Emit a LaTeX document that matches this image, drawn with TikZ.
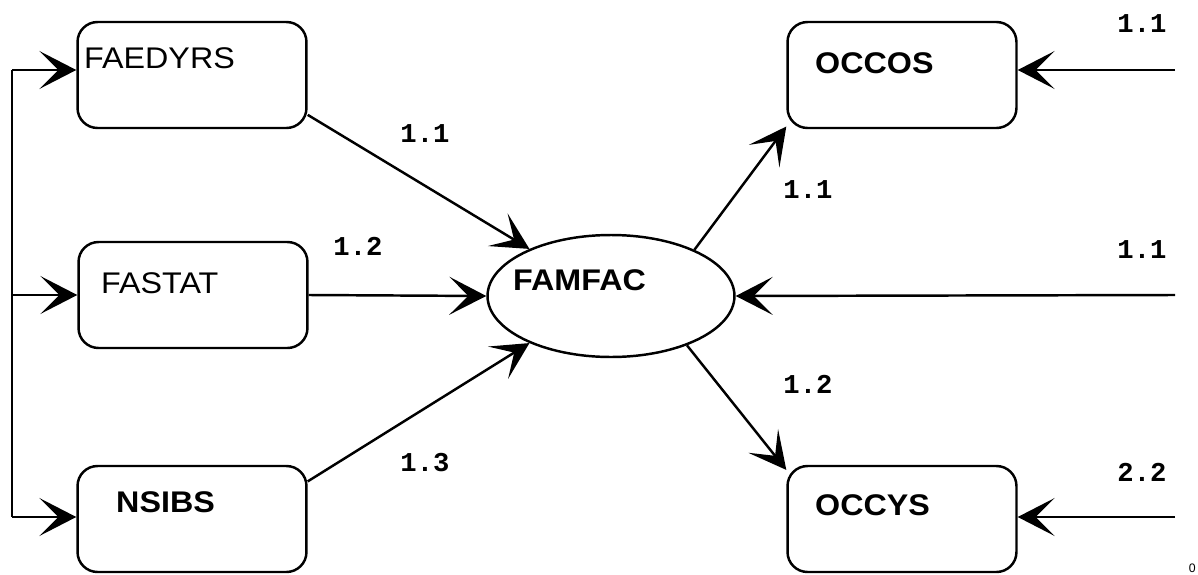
\documentclass[tikz,border=0pt]{standalone}
\usepackage{fontspec}
\setmainfont{Liberation Sans}
\newfontfamily\lblfont{Liberation Mono}
\newfontfamily\boxfont[FakeStretch=1.08]{Liberation Sans}
\usetikzlibrary{shapes.geometric,arrows.meta,calc}

\begin{document}
\begin{tikzpicture}[x=0.02cm,y=-0.02cm,>={Stealth[length=0.74cm,width=0.76cm,inset=0.38cm]},
  line width=1.4pt,
  every box/.style={draw,rounded corners=0.4cm,minimum width=4.58cm,minimum height=2.12cm,inner sep=0pt},
  boxtext/.style={anchor=west,font=\boxfont\fontsize{17}{20}\selectfont,inner sep=0pt},
  boldtext/.style={boxtext,font=\boxfont\bfseries\fontsize{17}{20}\selectfont},
  lbl/.style={font=\lblfont\bfseries\fontsize{15.5}{18}\selectfont,inner sep=0pt}]
  \useasboundingbox (0,0) rectangle (1198,575);
  % boxes
  \node[every box] (faedyrs) at (192,75) {};
  \node[every box] (fastat) at (193,295) {};
  \node[every box] (nsibs) at (192,519) {};
  \node[every box] (occos) at (902,75) {};
  \node[every box] (occys) at (902,519) {};
  \node[draw,ellipse,minimum width=4.94cm,minimum height=2.44cm,inner sep=0pt] (famfac) at (611,296) {};
  % box texts
  \node[boxtext] at (83,58) {FAEDYRS};
  \node[boxtext] at (100,283) {FASTAT};
  \node[boldtext] at (115,502) {NSIBS};
  \node[boldtext] at (814,63) {OCCOS};
  \node[boldtext] at (814,505) {OCCYS};
  \node[boldtext] at (512,280) {FAMFAC};
  % left feed
  \coordinate (ltop) at (12,70);
  \coordinate (lmid) at (12,295);
  \coordinate (lbot) at (12,517);
  \draw (ltop) -- (lbot);
  \draw[->] (ltop) -- (ltop -| faedyrs.west);
  \draw[->] (lmid) -- (fastat.west);
  \draw[->] (lbot) -- (lbot -| nsibs.west);
  % inputs to famfac
  \draw[->] (faedyrs.-19.5) -- (famfac.150);
  \draw[->] (fastat.east) -- (famfac.west);
  \draw[->] (nsibs.18) -- (famfac.210);
  % outputs of famfac
  \draw[->] (famfac.29) -- (occos.204);
  \draw[->] (famfac.-33) -- (occys.157);
  % right feed
  \coordinate (rtop) at (1175,70);
  \coordinate (rmid) at (1175,295);
  \coordinate (rbot) at (1175,517);
  \draw[->] (rtop) -- (rtop -| occos.east);
  \draw[->] (rmid) -- (famfac.east);
  \draw[->] (rbot) -- (rbot -| occys.east);
  % labels
  \node[lbl] (l1) at (425,134) {1.1};
  \node[lbl] (l2) at (358,246) {1.2};
  \node[lbl] (l3) at (425,463) {1.3};
  \node[lbl] (l4) at (808,190) {1.1};
  \node[lbl] (l5) at (808,384) {1.2};
  \node[lbl] (l6) at (1142,24) {1.1};
  \node[lbl] (l7) at (1142,250) {1.1};
  \node[lbl] (l8) at (1142,472) {2.2};
  \node[font=\fontsize{7}{8}\selectfont,inner sep=0pt,anchor=south east] (l9) at (1197,574) {0};
\end{tikzpicture}
\end{document}
